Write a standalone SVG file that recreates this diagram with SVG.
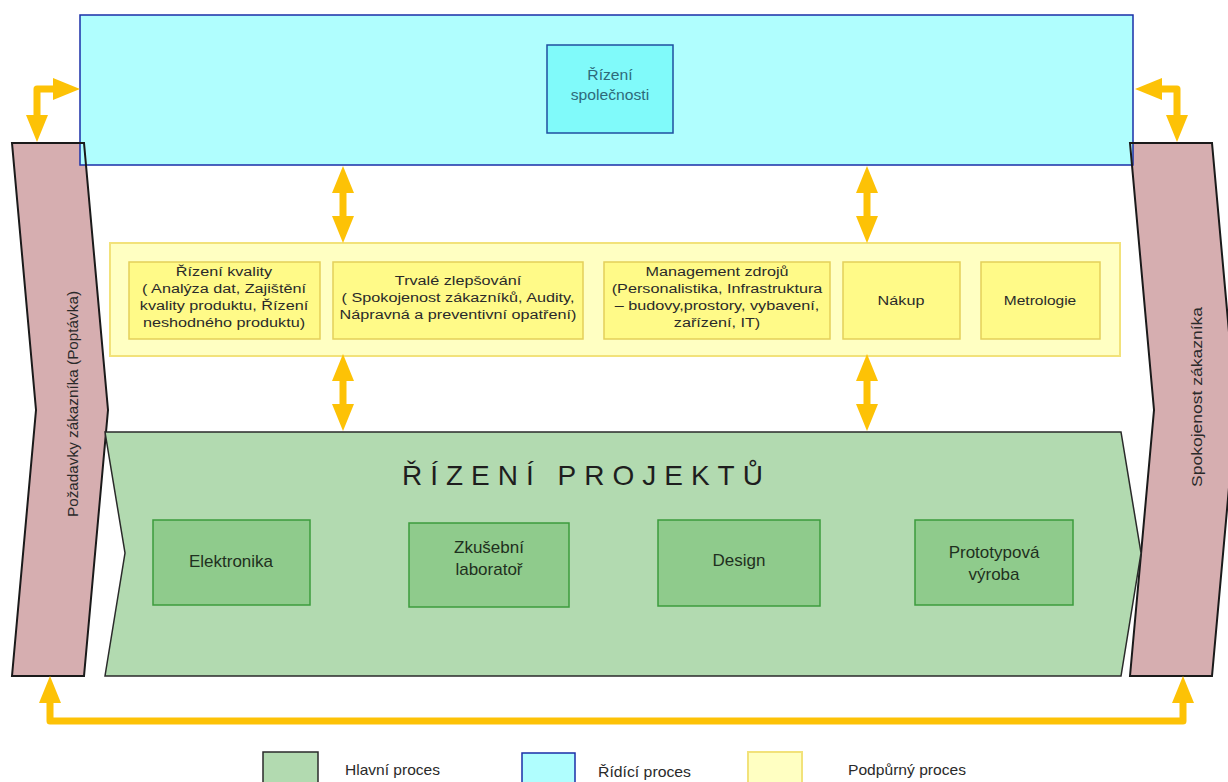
<svg xmlns="http://www.w3.org/2000/svg" width="1228" height="782" viewBox="0 0 1228 782">
<defs>
<style>
text{font-family:"Liberation Sans",Arial,sans-serif;fill:#2a2a2a}
.pink{fill:#D6AEB0}
.pinkline{fill:none;stroke:#1a1a1a;stroke-width:2}
.blue{fill:#B0FEFE;stroke:#1A2FA8;stroke-width:1.5}
.bluein{fill:#80FAFA;stroke:#1F4FA0;stroke-width:1.5}
.yel{fill:#FFFFC2;stroke:#F2E27A;stroke-width:2}
.yelin{fill:#FFFA88;stroke:#E4CF5A;stroke-width:1.5}
.green{fill:#B2DAB0;stroke:#2a2a2a;stroke-width:1.5}
.greenin{fill:#8FCB8C;stroke:#3C9C3C;stroke-width:1.5}
.conn{fill:none;stroke:#FDC206;stroke-width:7;stroke-linejoin:round}
.s13{font-size:13.5px;text-anchor:middle}
.s16{font-size:17px;text-anchor:middle;fill:#1f3020}
.s14{font-size:15px}
</style>
<marker id="ah" markerUnits="userSpaceOnUse" markerWidth="27" markerHeight="22" refX="0" refY="11" orient="auto-start-reverse" viewBox="0 0 27 22">
<path d="M0,0 L27,11 L0,22 z" fill="#FDC206"/>
</marker>
</defs>
<rect width="1228" height="782" fill="#ffffff"/>

<g id="pozadavky">
<polygon class="pink" points="12,143 84,143 108,410 84,676 12,676 36,410"/>
</g>
<g id="spokojenost">
<polygon class="pink" points="1130,143 1212,143 1236,410 1212,676 1130,676 1154,410"/>
</g>

<g id="rizeni-spolecnosti-band">
<rect class="blue" x="80" y="15" width="1053" height="150"/>
</g>
<g id="pink-outlines">
<polygon class="pinkline" points="12,143 84,143 108,410 84,676 12,676 36,410"/>
<polygon class="pinkline" points="1130,143 1212,143 1236,410 1212,676 1130,676 1154,410"/>
</g>
<text class="s14" transform="translate(78,404) rotate(-90)" text-anchor="middle" textLength="226" lengthAdjust="spacingAndGlyphs">Požadavky zákazníka (Poptávka)</text>
<text class="s14" transform="translate(1202,397) rotate(-90)" text-anchor="middle" textLength="180" lengthAdjust="spacingAndGlyphs">Spokojenost zákazníka</text>

<g id="rizeni-spolecnosti">
<rect class="bluein" x="547" y="45" width="126" height="88"/>
<g transform="translate(610,0) scale(1.12,1)" style="fill:#2E6A7A">
<text class="s13" x="0" y="80" style="font-size:14px;fill:#2E6A7A">Řízení</text>
<text class="s13" x="0" y="100" style="font-size:14px;fill:#2E6A7A">společnosti</text>
</g>
</g>

<g id="podpurne">
<rect class="yel" x="110" y="243" width="1010" height="113"/>
</g>
<g id="rizeni-kvality">
<rect class="yelin" x="129" y="262" width="191" height="77"/>
<g transform="translate(224,0) scale(1.2,1)">
<text class="s13" x="0" y="276">Řízení kvality</text>
<text class="s13" x="0" y="293">( Analýza dat, Zajištění</text>
<text class="s13" x="0" y="310">kvality produktu, Řízení</text>
<text class="s13" x="0" y="327">neshodného produktu)</text>
</g>
</g>
<g id="trvale-zlepsovani">
<rect class="yelin" x="333" y="262" width="250" height="77"/>
<g transform="translate(458,0) scale(1.2,1)">
<text class="s13" x="0" y="285">Trvalé zlepšování</text>
<text class="s13" x="0" y="302">( Spokojenost zákazníků, Audity,</text>
<text class="s13" x="0" y="319">Nápravná a preventivní opatření)</text>
</g>
</g>
<g id="management-zdroju">
<rect class="yelin" x="604" y="262" width="226" height="77"/>
<g transform="translate(717,0) scale(1.2,1)">
<text class="s13" x="0" y="276">Management zdrojů</text>
<text class="s13" x="0" y="293">(Personalistika, Infrastruktura</text>
<text class="s13" x="0" y="310">– budovy,prostory, vybavení,</text>
<text class="s13" x="0" y="327">zařízení, IT)</text>
</g>
</g>
<g id="nakup">
<rect class="yelin" x="843" y="262" width="117" height="77"/>
<g transform="translate(901,0) scale(1.2,1)">
<text class="s13" x="0" y="305">Nákup</text>
</g>
</g>
<g id="metrologie">
<rect class="yelin" x="981" y="262" width="119" height="77"/>
<g transform="translate(1040,0) scale(1.15,1)">
<text class="s13" x="0" y="305">Metrologie</text>
</g>
</g>

<g id="rizeni-projektu">
<polygon class="green" points="105,432 1121,432 1141,553 1121,676 105,676 125,553"/>
<text x="402" y="485" style="font-size:28px;letter-spacing:8px;fill:#1e1e1e">ŘÍZENÍ PROJEKTŮ</text>
</g>
<g id="elektronika">
<rect class="greenin" x="153" y="520" width="157" height="85"/>
<text class="s16" x="231" y="567">Elektronika</text>
</g>
<g id="zkusebni-laborator">
<rect class="greenin" x="409" y="523" width="160" height="84"/>
<text class="s16" x="489" y="553">Zkušební</text>
<text class="s16" x="489" y="575">laboratoř</text>
</g>
<g id="design">
<rect class="greenin" x="658" y="520" width="162" height="86"/>
<text class="s16" x="739" y="566">Design</text>
</g>
<g id="prototypova-vyroba">
<rect class="greenin" x="915" y="520" width="158" height="85"/>
<text class="s16" x="994" y="558">Prototypová</text>
<text class="s16" x="994" y="580">výroba</text>
</g>

<g id="connectors">
<path class="conn" d="M343,193 L343,216" marker-start="url(#ah)" marker-end="url(#ah)"/>
<path class="conn" d="M343,381 L343,404" marker-start="url(#ah)" marker-end="url(#ah)"/>
<path class="conn" d="M867,193 L867,216" marker-start="url(#ah)" marker-end="url(#ah)"/>
<path class="conn" d="M867,381 L867,404" marker-start="url(#ah)" marker-end="url(#ah)"/>
<path class="conn" d="M53,89 L37,89 L37,115" marker-start="url(#ah)" marker-end="url(#ah)"/>
<path class="conn" d="M1162,89 L1177,89 L1177,115" marker-start="url(#ah)" marker-end="url(#ah)"/>
<path class="conn" d="M50,703 L50,721 L1183,721 L1183,703" marker-start="url(#ah)" marker-end="url(#ah)"/>
</g>

<g id="legend">
<rect class="green" x="263" y="752" width="55" height="34"/>
<text class="s14" x="345" y="775" textLength="95" lengthAdjust="spacingAndGlyphs">Hlavní proces</text>
<rect class="blue" x="522" y="753" width="53" height="34"/>
<text class="s14" x="598" y="777" textLength="93" lengthAdjust="spacingAndGlyphs">Řídící proces</text>
<rect class="yel" x="748" y="752" width="54" height="34"/>
<text class="s14" x="848" y="775" textLength="118" lengthAdjust="spacingAndGlyphs">Podpůrný proces</text>
</g>
</svg>
